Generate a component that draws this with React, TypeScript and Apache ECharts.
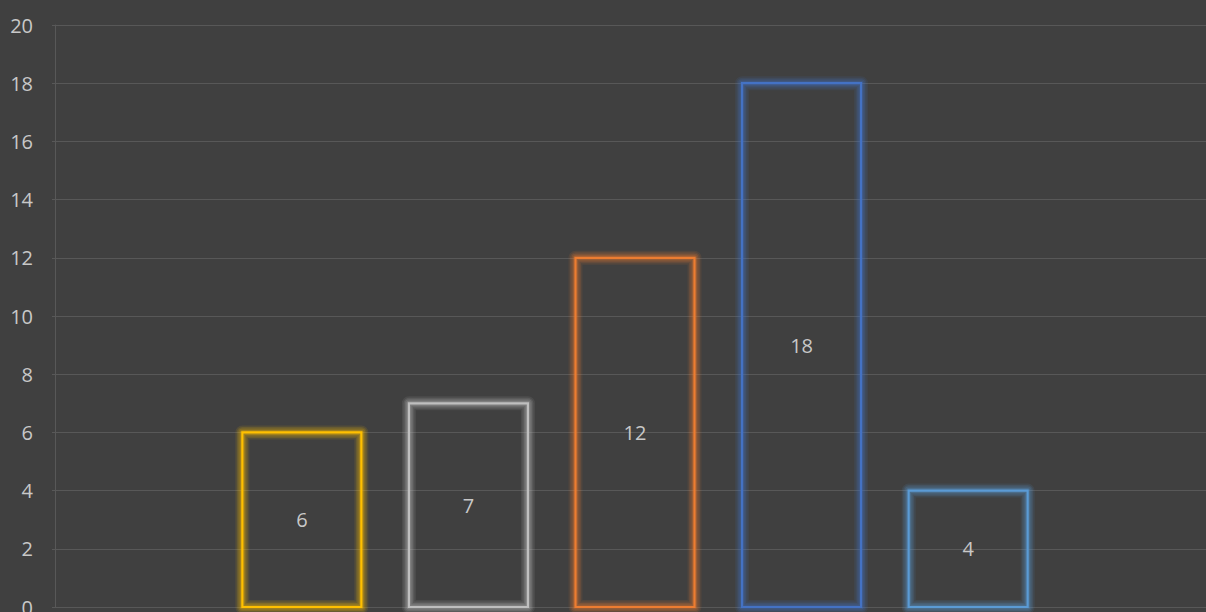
import React, { useEffect, useRef } from "react";
import * as echarts from "echarts";

const categories = ["", "A", "B", "C", "D", "E", ""];
const values: (number | null)[] = [null, 6, 7, 12, 18, 4, null];
const barColors = ["#FFC000", "#FFC000", "#BFBFBF", "#ED7D31", "#4472C4", "#5B9BD5", "#5B9BD5"];
const yTicks = [0, 2, 4, 6, 8, 10, 12, 14, 16, 18, 20];

function hexA(hex: string, a: number) {
  const n = parseInt(hex.slice(1), 16);
  return `rgba(${(n >> 16) & 255},${(n >> 8) & 255},${n & 255},${a})`;
}

const BAR_W = 119;
const glowLayers = [
  { w: 14, a: 0.1 },
  { w: 11, a: 0.13 },
  { w: 8, a: 0.17 },
  { w: 5, a: 0.24 },
];

export default function App() {
  const ref = useRef<HTMLDivElement>(null);
  useEffect(() => {
    if (!ref.current) return;
    const chart = echarts.init(ref.current, undefined, { renderer: "svg" });
    const data = values
      .map((v, i) => [i, v] as [number, number | null])
      .filter((d) => d[1] != null);
    chart.setOption({
      animation: false,
      backgroundColor: "#404040",
      grid: {
        left: 52,
        top: 25,
        width: 1166,
        height: 582,
        containLabel: false,
        outerBoundsMode: "none",
      },
      xAxis: {
        type: "category",
        data: categories,
        axisLine: { show: false },
        axisTick: { show: false },
        axisLabel: { show: false },
        splitLine: { show: false },
      },
      yAxis: {
        type: "value",
        min: yTicks[0],
        max: yTicks[yTicks.length - 1],
        interval: 2,
        offset: -3,
        axisLine: { show: true, lineStyle: { color: "#585858", width: 1 } },
        axisTick: { show: false },
        axisLabel: {
          color: "#C8C8C8",
          fontSize: 20,
          fontFamily: "Open Sans",
          margin: 22,
        },
        splitLine: { show: true, lineStyle: { color: "#585858", width: 1 } },
      },
      series: [
        {
          type: "custom",
          clip: false,
          encode: { x: 0, y: 1 },
          data,
          renderItem: (params: any, api: any) => {
            const idx = api.value(0);
            const val = api.value(1);
            const base = api.coord([idx, 0]);
            const top = api.coord([idx, val]);
            const color = barColors[idx];
            const x = base[0] - BAR_W / 2;
            const y = top[1];
            const h = base[1] - top[1];
            const shape = { x, y, width: BAR_W, height: h };
            const children: any[] = glowLayers.map((g) => ({
              type: "rect",
              shape,
              style: { fill: "none", stroke: hexA(color, g.a), lineWidth: g.w, lineJoin: "round" },
              silent: true,
            }));
            children.push({
              type: "rect",
              shape,
              style: { fill: "none", stroke: color, lineWidth: 2.2 },
            });
            children.push({
              type: "text",
              style: {
                text: String(val),
                x: base[0],
                y: y + h / 2,
                align: "center",
                verticalAlign: "middle",
                fill: "#C8C8C8",
                fontSize: 20,
                fontFamily: "Open Sans",
              },
            });
            return { type: "group", children };
          },
        },
      ],
    });
    return () => chart.dispose();
  }, []);
  return (
    <div
      ref={ref}
      style={{ position: "fixed", left: 0, top: 0, width: 1206, height: 612 }}
    />
  );
}
